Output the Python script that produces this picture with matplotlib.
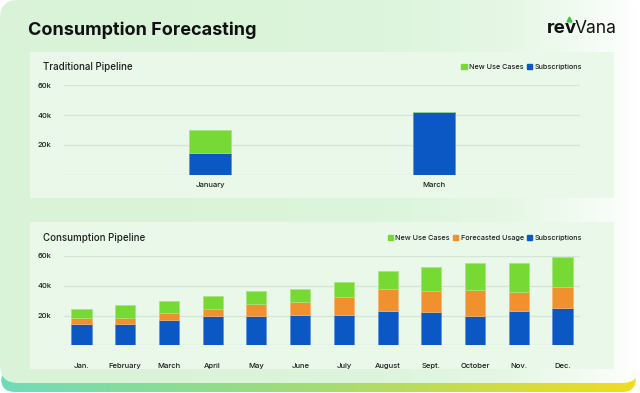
import matplotlib
matplotlib.use("Agg")
import matplotlib.pyplot as plt
import numpy as np
from matplotlib.patches import FancyBboxPatch, Patch
from matplotlib.colors import LinearSegmentedColormap

plt.rcParams["font.family"] = ["Inter", "DejaVu Sans"]

# ---------------- data ----------------
trad_categories = ["January", "March"]
trad_subscriptions = [14.3, 42.4]
trad_new_use_cases = [16.0, 0.0]

cons_categories = ["Jan.", "February", "March", "April", "May", "June",
                   "July", "August", "Sept.", "October", "Nov.", "Dec."]
cons_subscriptions = [14.6, 14.6, 16.8, 19.4, 19.6, 20.2, 20.2, 22.9, 22.7, 19.8, 22.9, 24.9]
cons_forecasted = [3.7, 3.7, 5.2, 5.3, 8.0, 8.6, 12.2, 15.1, 13.9, 17.3, 12.8, 14.0]
cons_new_use_cases = [6.0, 9.1, 7.9, 8.1, 9.0, 9.2, 10.4, 12.0, 16.2, 18.0, 19.4, 20.6]

y_ticks = [0, 20, 40, 60]
y_tick_labels = ["", "20k", "40k", "60k"]

GREEN = "#77d933"
ORANGE = "#f0902e"
BLUE = "#0b58c4"
GRID = "#d6e6d6"
PANEL = "#e9f8e9"
TEXT = "#1e1e1e"

W, H = 640, 393
fig = plt.figure(figsize=(6.4, 3.93), dpi=100)
fig.patch.set_facecolor("white")

bg = fig.add_axes([0, 0, 1, 1])
bg.set_xlim(0, W)
bg.set_ylim(H, 0)
bg.axis("off")

# bottom gradient strip
strip_cmap = LinearSegmentedColormap.from_list("strip", ["#6edcb9", "#a3dc74", "#f2dc1c"])
strip = FancyBboxPatch((1, 368), 635, 24, boxstyle="round,pad=0,rounding_size=14",
                       facecolor="none", edgecolor="none")
bg.add_patch(strip)
im = bg.imshow(np.linspace(0, 1, 256)[None, :], cmap=strip_cmap, aspect="auto",
               extent=(0, W, H, 360), zorder=1)
im.set_clip_path(strip)

# card with horizontal gradient fading to white on the right
card_cmap = LinearSegmentedColormap.from_list(
    "card", [(0.0, "#d8f3d7"), (0.6, "#dcf5dc"), (0.8, "#e6f7e5"),
             (0.93, "#f5fcf5"), (1.0, "#ffffff")])
card = FancyBboxPatch((0, 0), 640, 383, boxstyle="round,pad=0,rounding_size=18",
                      facecolor="none", edgecolor="none", zorder=2)
bg.add_patch(card)
im2 = bg.imshow(np.linspace(0, 1, 512)[None, :], cmap=card_cmap, aspect="auto",
                extent=(0, 640, 383, 0), zorder=2)
im2.set_clip_path(card)

# inner panels
for (x0, y0, x1, y1) in [(30, 52, 614, 198), (30, 222, 614, 369)]:
    bg.add_patch(plt.Rectangle((x0, y0), x1 - x0, y1 - y0, facecolor=PANEL,
                               edgecolor="none", zorder=3))

# titles
bg.text(28, 30, "Consumption Forecasting", fontsize=13, fontweight="bold",
        color="#111111", ha="left", va="center", zorder=5)
bg.text(43, 67, "Traditional Pipeline", fontsize=7, fontweight="medium",
        color=TEXT, ha="left", va="center", zorder=5)
bg.text(43, 238, "Consumption Pipeline", fontsize=7, fontweight="medium",
        color=TEXT, ha="left", va="center", zorder=5)

# logo
bg.text(546.5, 33, "rev", fontsize=13.5, fontweight="bold", color="#111111",
        ha="left", va="baseline", zorder=5)
bg.text(574.5, 33, "Vana", fontsize=12.5, color="#111111",
        ha="left", va="baseline", zorder=5)
bg.plot([569.0], [18.5], marker="^", color="#3cc63c", markersize=3.5, zorder=6)


def px_axes(x0, x1, ytop, ybot):
    return fig.add_axes([x0 / W, (H - ybot) / H, (x1 - x0) / W, (ybot - ytop) / H])


def style_axes(ax):
    ax.set_facecolor("none")
    for s in ax.spines.values():
        s.set_visible(False)
    ax.set_ylim(0, 60)
    ax.set_yticks(y_ticks)
    ax.set_yticklabels(y_tick_labels)
    ax.grid(axis="y", color=GRID, linewidth=1.0)
    ax.set_axisbelow(True)
    ax.tick_params(axis="y", length=0, pad=9, labelsize=5.5, labelcolor=TEXT)
    ax.tick_params(axis="x", length=0, labelsize=5.5, labelcolor=TEXT)
    for lab in ax.get_yticklabels() + ax.get_xticklabels():
        lab.set_fontweight("medium")
    ax.set_zorder(10)


def make_legend(ax, handles, y_px):
    leg = ax.legend(handles=handles, loc="center right",
                    bbox_to_anchor=(582 / W, (H - y_px) / H),
                    bbox_transform=fig.transFigure, ncol=len(handles), frameon=False,
                    fontsize=5.2, handlelength=0.7, handleheight=0.7,
                    handletextpad=0.35, columnspacing=0.45, borderpad=0, borderaxespad=0)
    for t in leg.get_texts():
        t.set_color(TEXT)
        t.set_fontweight("medium")
    return leg


# ---------------- traditional pipeline ----------------
ax1 = px_axes(64, 580, 85.3, 174.7)
x1 = np.arange(len(trad_categories))
bw1 = 0.189
ax1.bar(x1, trad_subscriptions, bw1, color=BLUE, edgecolor="#5d8fdc", linewidth=0.5)
ax1.bar(x1, trad_new_use_cases, bw1, bottom=trad_subscriptions, color=GREEN,
        edgecolor="#a6e67c", linewidth=0.5)
ax1.set_xticks(x1)
ax1.set_xticklabels(trad_categories)
style_axes(ax1)
ax1.tick_params(axis="x", pad=5)
ax1.set_xlim(-0.652, 1.652)
make_legend(ax1, [Patch(color=GREEN, label="New Use Cases"),
                  Patch(color=BLUE, label="Subscriptions")], 67)

# ---------------- consumption pipeline ----------------
ax2 = px_axes(64, 580, 256, 345.3)
x2 = np.arange(len(cons_categories))
bw2 = 0.458
sub_arr = np.array(cons_subscriptions)
fore_arr = np.array(cons_forecasted)
new_arr = np.array(cons_new_use_cases)
ax2.bar(x2, sub_arr, bw2, color=BLUE, edgecolor="#5d8fdc", linewidth=0.5)
ax2.bar(x2, fore_arr, bw2, bottom=sub_arr, color=ORANGE, edgecolor="#f5b675", linewidth=0.5)
ax2.bar(x2, new_arr, bw2, bottom=sub_arr + fore_arr, color=GREEN,
        edgecolor="#a6e67c", linewidth=0.5)
ax2.set_xticks(x2)
ax2.set_xticklabels(cons_categories)
style_axes(ax2)
ax2.tick_params(axis="x", pad=13)
ax2.set_xlim(-0.4, 11.4)
make_legend(ax2, [Patch(color=GREEN, label="New Use Cases"),
                  Patch(color=ORANGE, label="Forecasted Usage"),
                  Patch(color=BLUE, label="Subscriptions")], 238)

fig.savefig("out.png", dpi=100)
